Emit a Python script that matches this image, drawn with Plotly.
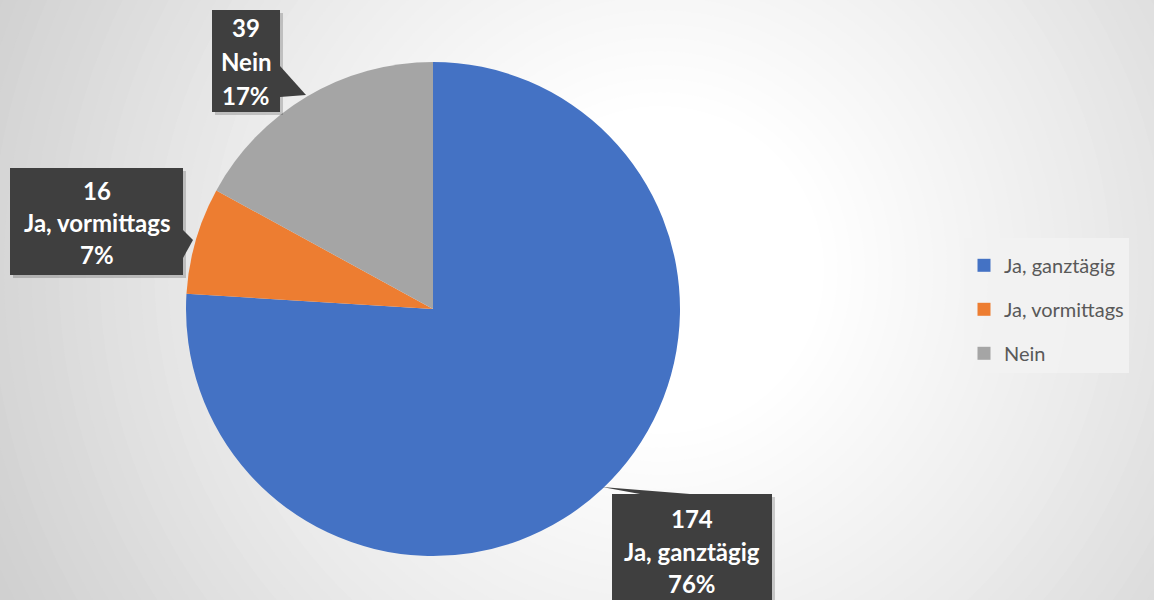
import plotly.graph_objects as go

# ---- data ----
categories = ["Ja, ganztägig", "Ja, vormittags", "Nein"]
counts = [174, 16, 39]
percents = ["76%", "7%", "17%"]
colors = ["#4472C4", "#ED7D31", "#A5A5A5"]

W, H = 1154, 600
FONT = "Lato"


def px(x):
    return x / W


def py(y):
    return 1 - y / H


fig = go.Figure()

# pie centred at (433, 309) with radius 247 px
cx, cy, r = 433, 309, 247
fig.add_trace(go.Pie(
    labels=categories,
    values=counts,
    marker=dict(colors=colors, line=dict(width=0)),
    sort=False,
    direction="clockwise",
    rotation=0,
    textinfo="none",
    hoverinfo="label+value+percent",
    showlegend=False,
    domain=dict(x=[px(cx - r), px(cx + r)], y=[py(cy + r), py(cy - r)]),
))

# legend entries (dummy traces so the legend spacing can be controlled)
for i, (cat, col) in enumerate(zip(categories, colors)):
    fig.add_trace(go.Scatter(
        x=[None], y=[None], mode="markers", name=cat,
        marker=dict(symbol="square", size=13, color=col),
        legendgroup=f"g{i}", showlegend=True,
    ))

shapes = []

# radial gradient background
gcx, gcy = 660, 270
stops = [(0, 255), (170, 255), (320, 244), (470, 232), (620, 218), (800, 202)]
n = 60
rmax = 820
for k in range(n, 0, -1):
    rr = rmax * k / n
    g = stops[-1][1]
    for (r0, g0), (r1, g1) in zip(stops[:-1], stops[1:]):
        if r0 <= rr <= r1:
            g = g0 + (g1 - g0) * (rr - r0) / (r1 - r0)
            break
    g = int(round(g))
    shapes.append(dict(
        type="circle", xref="paper", yref="paper",
        xsizemode="pixel", ysizemode="pixel",
        xanchor=px(gcx), yanchor=py(gcy),
        x0=-rr, x1=rr, y0=-rr, y1=rr,
        fillcolor=f"rgb({g},{g},{g})", line=dict(width=0), layer="below",
    ))

# label boxes: (left, top, right, bottom) in px, pointer triangle, line centres
BOX = "#3f3f3f"
label_boxes = {
    "Nein": dict(box=(212, 10, 280, 112), ptr=[(280, 66), (306, 95), (280, 97)],
                 lines_y=[28, 62, 95]),
    "Ja, vormittags": dict(box=(10, 168, 183, 275), ptr=[(183, 230), (193, 240), (183, 258)],
                           lines_y=[190, 222, 254]),
    "Ja, ganztägig": dict(box=(612, 494, 772, 602), ptr=[(602, 487), (640, 494), (690, 494)],
                          lines_y=[518, 551, 583]),
}

annotations = []
for cat, cnt, pct in zip(categories, counts, percents):
    spec = label_boxes[cat]
    x0, y0, x1, y1 = spec["box"]
    # shadow
    shapes.append(dict(type="rect", xref="paper", yref="paper",
                       x0=px(x0 + 3), x1=px(x1 + 3), y0=py(y1 + 3), y1=py(y0 + 3),
                       fillcolor="rgba(0,0,0,0.18)", line=dict(width=0), layer="above"))
    shapes.append(dict(type="rect", xref="paper", yref="paper",
                       x0=px(x0), x1=px(x1), y0=py(y1), y1=py(y0),
                       fillcolor=BOX, line=dict(width=0), layer="above"))
    pts = spec["ptr"]
    path = "M " + " L ".join(f"{px(a)},{py(b)}" for a, b in pts) + " Z"
    shapes.append(dict(type="path", xref="paper", yref="paper", path=path,
                       fillcolor=BOX, line=dict(width=0), layer="above"))
    xc = (x0 + x1) / 2
    for txt, ly in zip([str(cnt), cat, pct], spec["lines_y"]):
        annotations.append(dict(
            x=px(xc), y=py(ly), xref="paper", yref="paper",
            text=f"<b>{txt}</b>", showarrow=False,
            xanchor="center", yanchor="middle",
            font=dict(family=FONT, size=24, color="white"),
        ))

fig.update_layout(
    width=W, height=H,
    margin=dict(l=0, r=0, t=0, b=0),
    paper_bgcolor="rgb(202,202,202)",
    plot_bgcolor="rgba(0,0,0,0)",
    xaxis=dict(visible=False),
    yaxis=dict(visible=False),
    shapes=shapes,
    annotations=annotations,
    showlegend=True,
    legend=dict(
        x=px(964), y=py(238), xanchor="left", yanchor="top",
        bgcolor="rgba(242,242,242,0.85)",
        font=dict(family=FONT, size=20, color="#595959"),
        title=dict(text=" ", font=dict(size=6)),
        tracegroupgap=15,
        itemwidth=30,
        entrywidth=170,
        entrywidthmode="pixels",
    ),
    font=dict(family=FONT),
)

fig.write_html("out.html", config={"displayModeBar": False},
               post_script="document.body.style.margin='0';")
